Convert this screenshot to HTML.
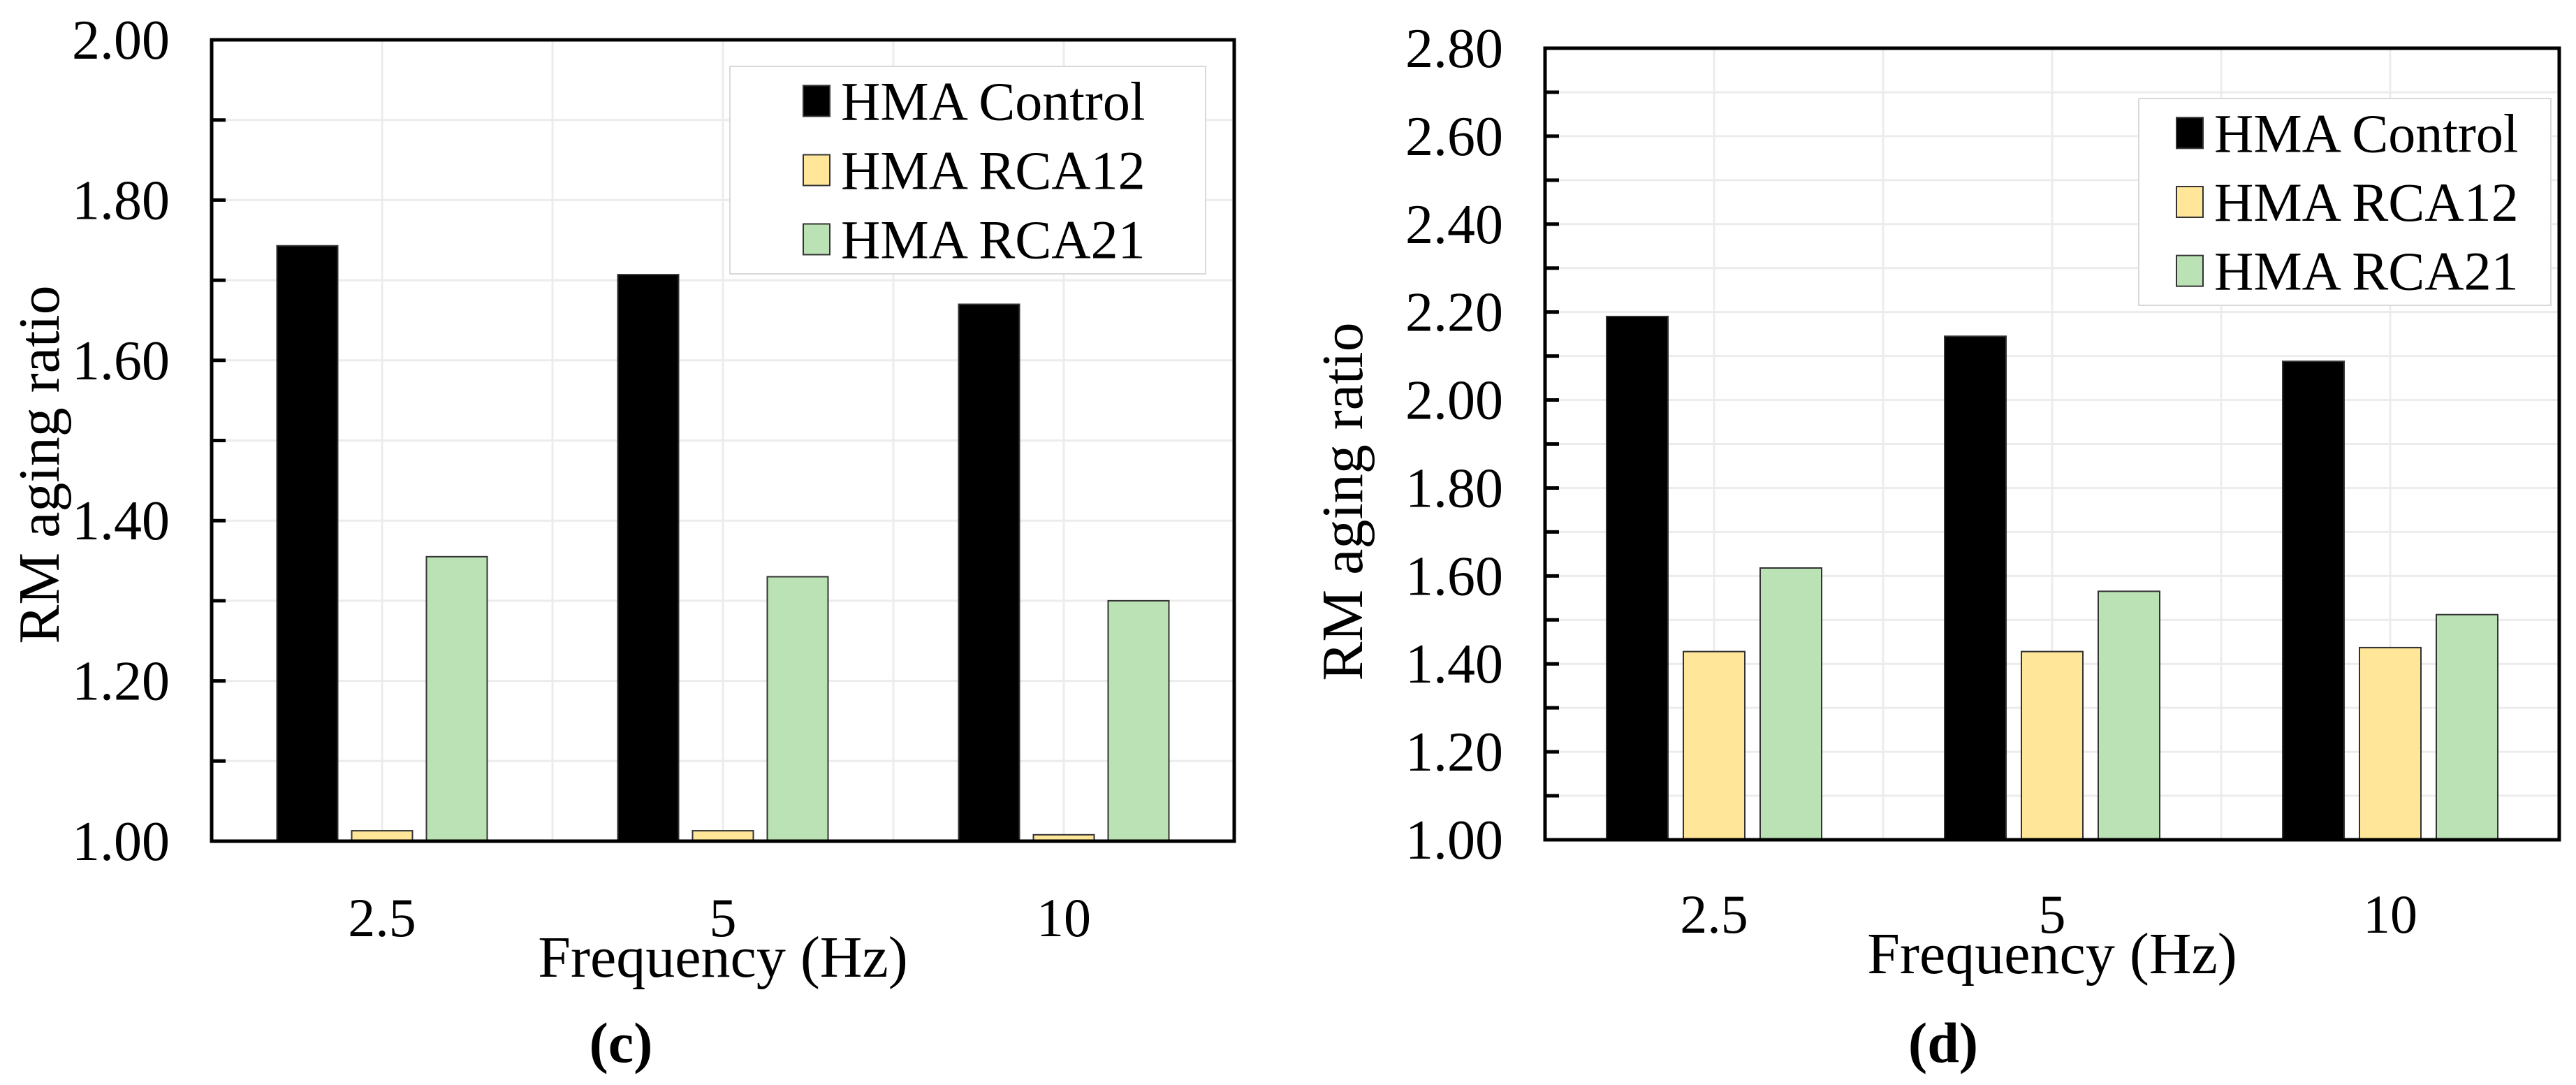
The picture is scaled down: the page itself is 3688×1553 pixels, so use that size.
<!DOCTYPE html>
<html><head><meta charset="utf-8"><style>
html,body{margin:0;padding:0;background:#fff;}
svg{display:block;font-family:"Liberation Serif",serif;}
</style></head><body>
<svg id="fig" width="3688" height="1553" viewBox="0 0 3688 1553" xmlns="http://www.w3.org/2000/svg"></svg>
<script>
const categories = ["2.5", "5", "10"];
const seriesNames = ["HMA Control", "HMA RCA12", "HMA RCA21"];
const seriesColors = ["#000000", "#ffe699", "#bbe2b5"];
const cControl = [1.743, 1.707, 1.670];
const cRCA12 = [1.013, 1.013, 1.008];
const cRCA21 = [1.355, 1.330, 1.300];
const dControl = [2.190, 2.145, 2.088];
const dRCA12 = [1.428, 1.428, 1.437];
const dRCA21 = [1.618, 1.565, 1.512];
const cTicks = ["1.00", "1.20", "1.40", "1.60", "1.80", "2.00"];
const dTicks = ["1.00", "1.20", "1.40", "1.60", "1.80", "2.00", "2.20", "2.40", "2.60", "2.80"];

const NS = "http://www.w3.org/2000/svg";
const svg = document.getElementById("fig");
function mk(tag, attrs, parent, text) {
  const e = document.createElementNS(NS, tag);
  for (const k in attrs) e.setAttribute(k, attrs[k]);
  if (text !== undefined) e.textContent = text;
  (parent || svg).appendChild(e);
  return e;
}

function panel(cfg) {
  const g = mk("g", {});
  
  
  const L = cfg.left, R = cfg.right, T = cfg.top, B = cfg.bottom;
  const ymin = cfg.ymin, ymax = cfg.ymax;
  const y = v => B - (v - ymin) / (ymax - ymin) * (B - T);
  const catW = (R - L) / categories.length;
  const xc = i => L + catW * (i + 0.5);
  for (let v = ymin + 0.1; v < ymax - 0.001; v += 0.1) {
    const gl = mk("line", {x1: L, x2: R, y1: y(v), y2: y(v), stroke: "#ececec", "stroke-width": 3}, g);
    
    
  }
  for (let k = 1; k < categories.length * 2; k++) {
    const x = L + catW * k / 2;
    const gl = mk("line", {x1: x, x2: x, y1: T, y2: B, stroke: "#ececec", "stroke-width": 3}, g);
    
    
  }
  const series = cfg.series;
  series.forEach((vals, s) => {
    vals.forEach((v, i) => {
      const cx = xc(i) + (s - 1) * cfg.pitch;
      const r = mk("rect", {x: cx - cfg.barW / 2, y: y(v), width: cfg.barW, height: B - y(v),
        fill: seriesColors[s], stroke: "#333", "stroke-width": 2}, g);
      
      
    });
  });
  cfg.ticks.forEach(t => {
    const v = parseFloat(t);
    const tl = mk("text", {x: L - 60, y: y(v) + 27, "text-anchor": "end", "font-size": 80}, g, t);
    
    
  });
  for (let v = ymin + 0.1; v < ymax - 0.001; v += 0.1) {
    const tk = mk("line", {x1: L, x2: L + 20, y1: y(v), y2: y(v), stroke: "#000", "stroke-width": 5}, g);
    
    
  }
  const fr = mk("rect", {x: L, y: T, width: R - L, height: B - T, fill: "none", stroke: "#000", "stroke-width": 5}, g);
  
  
  categories.forEach((c, i) => {
    const xl = mk("text", {x: xc(i), y: cfg.xtickY, "text-anchor": "middle", "font-size": 78}, g, c);
    
    
  });
  const xt = mk("text", {x: (L + R) / 2, y: cfg.xtitleY, "text-anchor": "middle", "font-size": 84}, g, "Frequency (Hz)");
  
  
  const yt = mk("text", {x: 0, y: 0, "text-anchor": "middle", "font-size": 84,
    transform: "translate(" + cfg.ytitleX + "," + cfg.ytitleY + ") rotate(-90)"}, g, "RM aging ratio");
  
  
  const pl = mk("text", {x: cfg.labelX, y: cfg.labelY, "text-anchor": "middle", "font-size": 82, "font-weight": "bold"}, g, cfg.label);
  
  
  const lg = mk("g", {}, g);
  
  
  mk("rect", {x: cfg.lx1, y: cfg.ly1, width: cfg.lx2 - cfg.lx1, height: cfg.ly2 - cfg.ly1, fill: "#fff", stroke: "#d9d9d9", "stroke-width": 2}, lg);
  seriesNames.forEach((n, s) => {
    const ey = cfg.ly1 + (cfg.ly2 - cfg.ly1) * (s + 0.5) / 3;
    const e = mk("g", {}, lg);
    
    
    mk("rect", {x: cfg.swX, y: ey - 22, width: 38, height: 44, fill: seriesColors[s], stroke: "#333", "stroke-width": 2}, e);
    mk("text", {x: cfg.swX + 54, y: ey + 27, "font-size": 78}, e, n);
  });
}

panel({name: "panel-c", left: 303, right: 1767, top: 57, bottom: 1204, ymin: 1.0, ymax: 2.0,
  ticks: cTicks, series: [cControl, cRCA12, cRCA21], barW: 87, pitch: 107,
  xtickY: 1340, xtitleY: 1398, ytitleX: 84, ytitleY: 665, label: "(c)", labelX: 889, labelY: 1520,
  lx1: 1045, lx2: 1726, ly1: 95, ly2: 392, swX: 1150});
panel({name: "panel-d", left: 2212, right: 3664, top: 69, bottom: 1202, ymin: 1.0, ymax: 2.8,
  ticks: dTicks, series: [dControl, dRCA12, dRCA21], barW: 88, pitch: 110,
  xtickY: 1335, xtitleY: 1393, ytitleX: 1950, ytitleY: 718, label: "(d)", labelX: 2782, labelY: 1520,
  lx1: 3062, lx2: 3652, ly1: 141, ly2: 437, swX: 3116});
</script>
</body></html>
